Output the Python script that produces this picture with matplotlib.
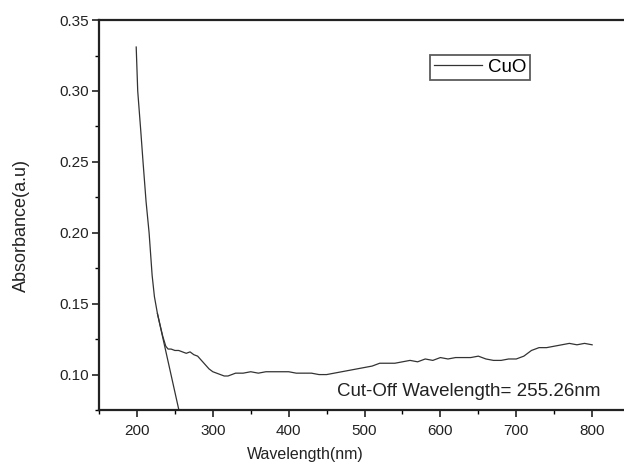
import numpy as np
import matplotlib
matplotlib.use("Agg")
from matplotlib import pyplot as plt

plt.rcParams['font.family'] = ['Liberation Sans', 'DejaVu Sans']

# spectrum
wavelength = [199, 201, 205, 208, 212, 216, 220, 223, 227, 230, 234, 238, 241,
              245, 250, 255, 260, 265, 270, 275, 280, 285, 290, 295, 300, 305,
              310, 315, 320, 325, 330, 340, 350, 360, 370, 380, 390, 400, 410,
              420, 430, 440, 450, 460, 470, 480, 490, 500, 510, 520, 530, 540,
              550, 560, 570, 580, 590, 600, 610, 620, 630, 640, 650, 660, 670,
              680, 690, 700, 710, 720, 730, 740, 750, 760, 770, 780, 790, 800]
absorbance = [0.331, 0.300, 0.272, 0.250, 0.222, 0.200, 0.170, 0.155, 0.143,
              0.136, 0.127, 0.120, 0.118, 0.118, 0.117, 0.117, 0.116, 0.115,
              0.116, 0.114, 0.113, 0.110, 0.107, 0.104, 0.102, 0.101, 0.100,
              0.099, 0.099, 0.100, 0.101, 0.101, 0.102, 0.101, 0.102, 0.102,
              0.102, 0.102, 0.101, 0.101, 0.101, 0.100, 0.100, 0.101, 0.102,
              0.103, 0.104, 0.105, 0.106, 0.108, 0.108, 0.108, 0.109, 0.110,
              0.109, 0.111, 0.110, 0.112, 0.111, 0.112, 0.112, 0.112, 0.113,
              0.111, 0.110, 0.110, 0.111, 0.111, 0.113, 0.117, 0.119, 0.119,
              0.120, 0.121, 0.122, 0.121, 0.122, 0.121]

# tangent used for the cut-off
tangent_x = [227, 255.26]
tangent_y = [0.143, 0.075]

fig = plt.figure(figsize=(6.24, 4.67), dpi=100)
ax = fig.add_axes([0.1587, 0.122, 0.851, 0.835])

ax.plot(wavelength, absorbance, color='#333333', lw=0.9, label='CuO')
ax.plot(tangent_x, tangent_y, color='#333333', lw=0.9)

ax.set_xlim(150, 850)
ax.set_ylim(0.075, 0.35)
ax.set_xticks(np.arange(200, 801, 100))
ax.set_xticks(np.arange(150, 851, 50), minor=True)
ax.set_yticks([0.10, 0.15, 0.20, 0.25, 0.30, 0.35])
ax.set_yticks(np.arange(0.075, 0.351, 0.025), minor=True)
ax.yaxis.set_major_formatter(matplotlib.ticker.FormatStrFormatter('%.2f'))

ax.tick_params(which='major', direction='out', length=5, width=1.2,
               labelsize=11, colors='#222222')
ax.tick_params(axis='x', which='major', pad=5)
ax.tick_params(axis='y', which='major', pad=2)
ax.tick_params(which='minor', direction='out', length=3, width=1)
for s in ax.spines.values():
    s.set_linewidth(1.6)
    s.set_color('#222222')

ax.set_xlabel('Wavelength(nm)', fontsize=11.5, color='#222222')
ax.set_ylabel('Absorbance(a.u)', fontsize=13, color='#222222')
ax.xaxis.set_label_coords(0.388, -0.095)
ax.yaxis.set_label_coords(-0.13, 0.474)

leg = ax.legend(loc='upper left', bbox_to_anchor=(0.623, 0.91), fontsize=13.5,
                fancybox=False, edgecolor='#333333', handlelength=2.6,
                borderpad=0.2, handletextpad=0.3, borderaxespad=0)
leg.get_frame().set_linewidth(1.3)

ax.text(0.9435, 0.0487, 'Cut-Off Wavelength= 255.26nm', fontsize=13.5,
        transform=ax.transAxes, ha='right', va='center', color='#222222')

fig.savefig('out.png', dpi=100)
